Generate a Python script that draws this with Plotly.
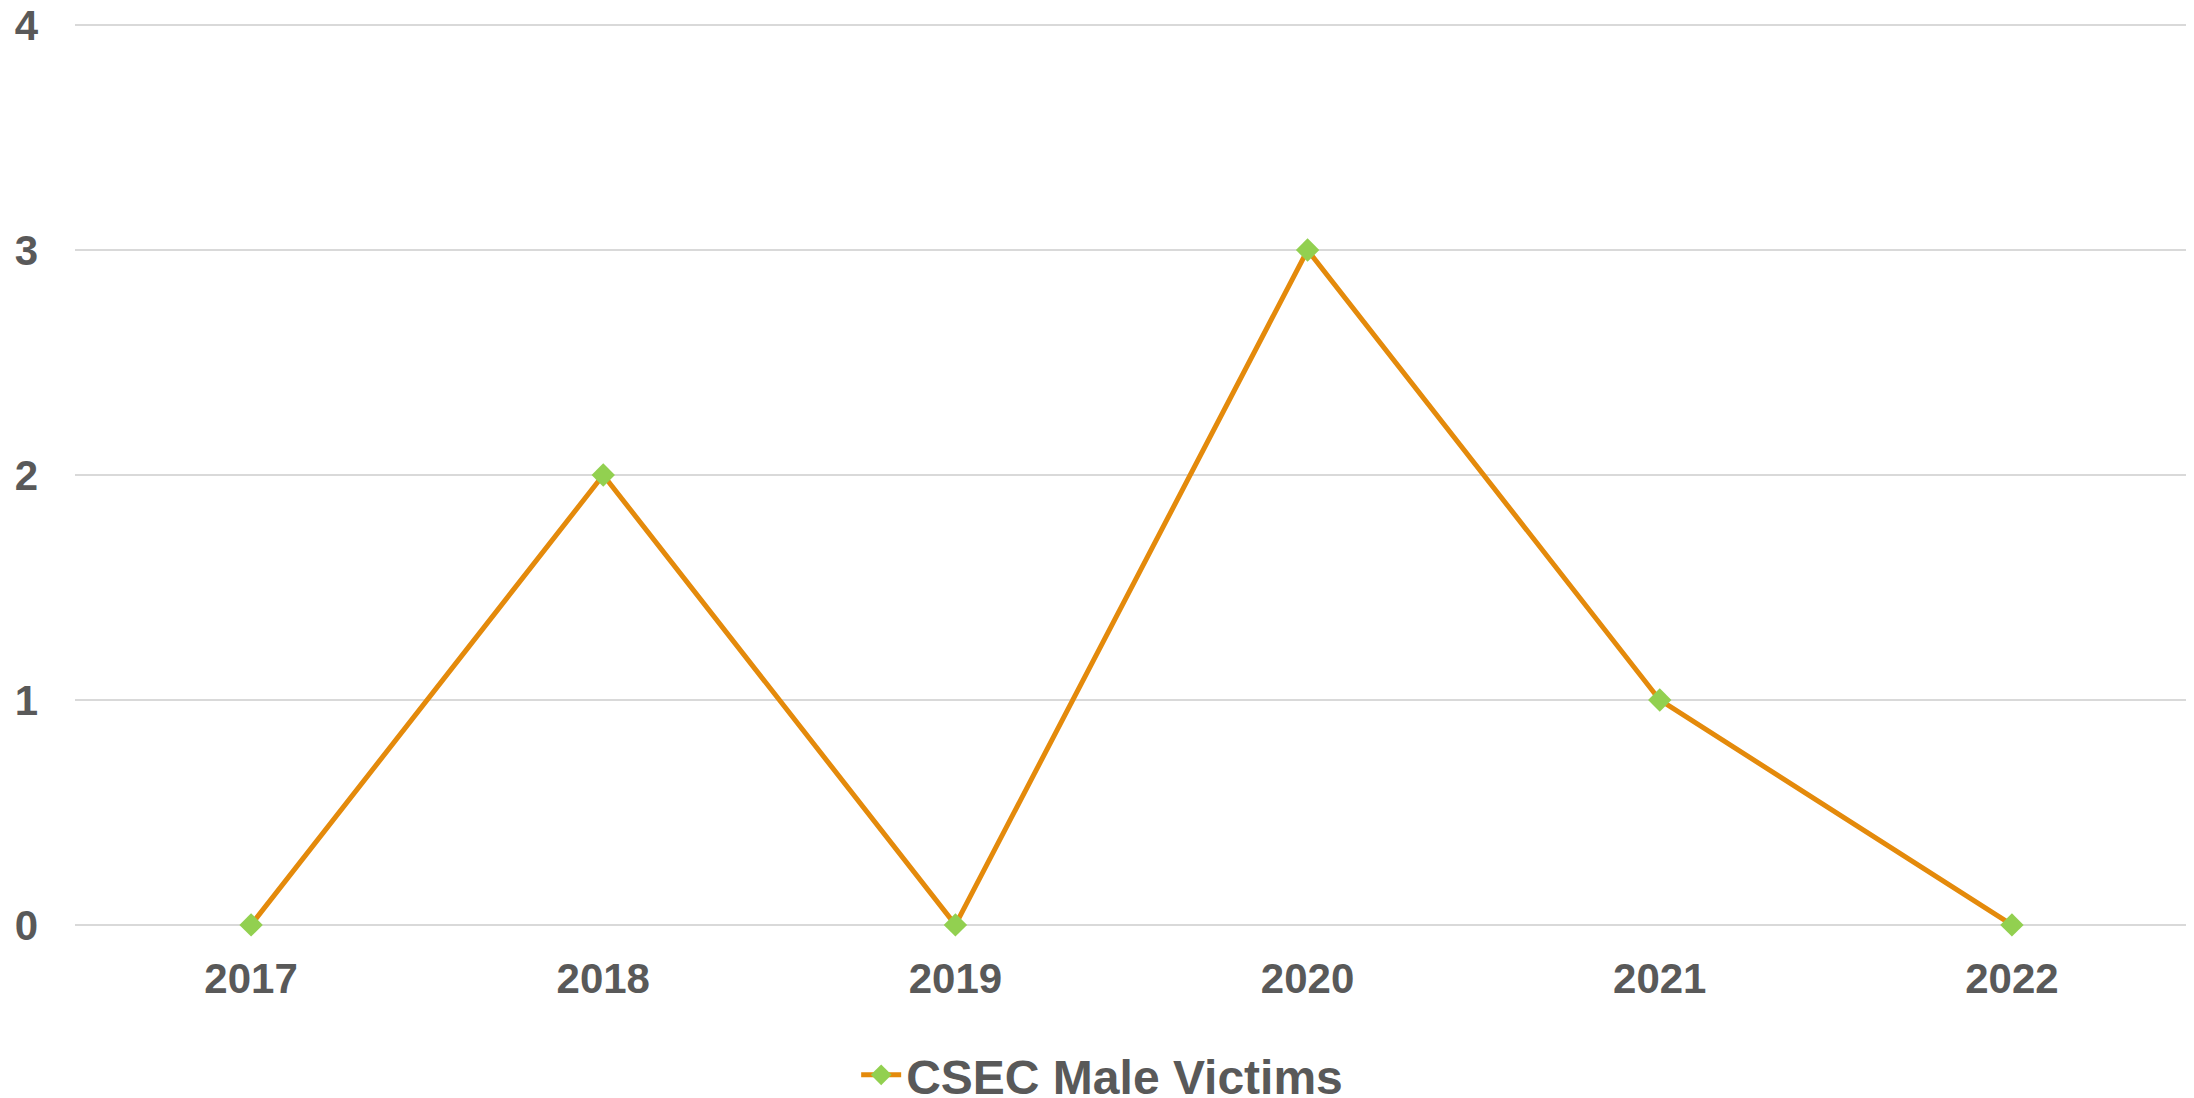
import plotly.graph_objects as go

years = ["2017", "2018", "2019", "2020", "2021", "2022"]
male_victims = [0, 2, 0, 3, 1, 0]
y_ticks = [0, 1, 2, 3, 4]

TEXT = "#595959"
fig = go.Figure()
fig.add_trace(go.Scatter(
    x=years, y=male_victims, mode="lines+markers", name="CSEC Male Victims",
    line=dict(color="#E48A0B", width=5),
    marker=dict(symbol="diamond", size=18, color="#92D050"),
    cliponaxis=False,
))
fig.update_layout(
    width=2186, height=1090,
    margin=dict(l=67, r=6, t=16, b=172),
    plot_bgcolor="white", paper_bgcolor="white",
    font=dict(family="Liberation Sans, Arial", color=TEXT, size=42),
    showlegend=True,
    legend=dict(orientation="h", xref="container", yref="container",
                x=0.388, y=0.021, xanchor="left", yanchor="middle",
                font=dict(size=48, color=TEXT, weight="bold"),
                itemwidth=40, bgcolor="rgba(0,0,0,0)"),
    xaxis=dict(type="category", range=[-0.5, 5.5], showgrid=False, zeroline=False,
               showline=False, ticks="", ticklabelstandoff=24, automargin=False,
               tickfont=dict(size=42, color=TEXT, weight="bold")),
    yaxis=dict(range=[-0.005, 4.005], tickvals=y_ticks, showgrid=True, gridcolor="#D9D9D9",
               gridwidth=2, zeroline=False, showline=False, ticks="",
               ticklabelstandoff=36, automargin=False, ticklabeloverflow="allow",
               tickfont=dict(size=42, color=TEXT, weight="bold")),
)
fig.write_html("out.html")
